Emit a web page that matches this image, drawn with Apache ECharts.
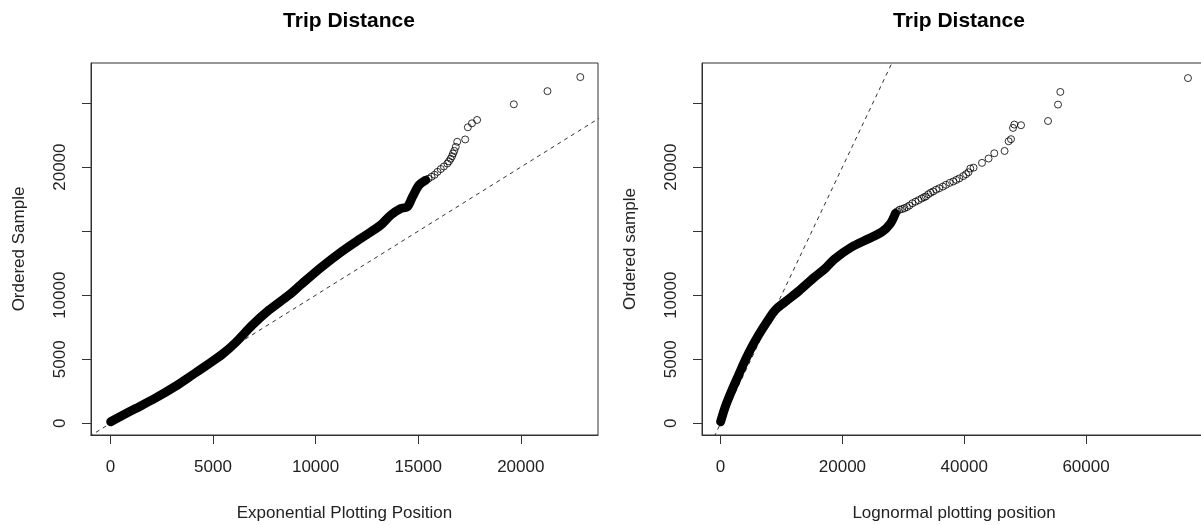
<!DOCTYPE html>
<html>
<head>
<meta charset="utf-8">
<title>Trip Distance</title>
<script src="https://cdn.jsdelivr.net/npm/echarts@6/dist/echarts.min.js"></script>
<style>
html, body { margin: 0; padding: 0; background: #fff; overflow: hidden; }
#report { width: 1201px; height: 525px; }
</style>
</head>
<body>
<div id="report"></div>
<script>
// 指数分布 QQ 图: 密集部分 + 尾部散点
var expBodyX = [15, 420, 1230, 2210, 3180, 4000, 4800, 5460, 6100, 6920, 7730, 8700, 9300, 10250, 11220, 12200, 13170, 13660, 14150, 14470, 14720, 15040, 15370];
var expBodyY = [125, 480, 1150, 1980, 2900, 3780, 4650, 5400, 6300, 7670, 8840, 10010, 10850, 12150, 13350, 14430, 15470, 16250, 16770, 16900, 17680, 18590, 18980];
var expTailX = [15500, 15650, 15800, 15940, 16100, 16250, 16420, 16500, 16580, 16650, 16700, 16760, 16830, 16900, 17290, 17420, 17620, 17870, 19660, 21300, 22900];
var expTailY = [19100, 19250, 19400, 19630, 19850, 20050, 20280, 20450, 20650, 20850, 21060, 21270, 21580, 21980, 22160, 23110, 23420, 23680, 24905, 25930, 27030];

// 对数正态 QQ 图
var lnBodyX = [0, 770, 1870, 2960, 4060, 5160, 6240, 7620, 8980, 10620, 12900, 15400, 17200, 18670, 21450, 24240, 26470, 27870, 28700];
var lnBodyY = [125, 1300, 2600, 3770, 4940, 5980, 6890, 7930, 8840, 9490, 10350, 11400, 12100, 12815, 13744, 14400, 14930, 15590, 16390];
var lnTailX = [29000, 29400, 29820, 30200, 30600, 31000, 31490, 32000, 32500, 33000, 33400, 33710, 34100, 34500, 34900, 35390, 35900, 36500, 37000, 37620, 38200, 38700, 39200, 39850, 40300, 40700, 41000, 41530, 42920, 44000, 44940, 46630, 47290, 47680, 48010, 48230, 49330, 53760, 55400, 55780, 76740];
var lnTailY = [16550, 16680, 16730, 16800, 16880, 17000, 17180, 17300, 17420, 17550, 17650, 17710, 17880, 18000, 18100, 18240, 18350, 18480, 18620, 18770, 18880, 19000, 19120, 19300, 19450, 19600, 19890, 19960, 20330, 20670, 21080, 21260, 22020, 22180, 23060, 23320, 23270, 23600, 24880, 25870, 26950];

// 参考线 y = x 的两个端点
var refLine = [-5000, 90000];

// 刻度
var expXTicks = [0, 5000, 10000, 15000, 20000];
var lnXTicks = [0, 20000, 40000, 60000];
var yTicks = [0, 5000, 10000, 15000, 20000, 25000];
var yLabels = [0, 5000, 10000, 20000];

var FONT = '"Liberation Sans", Arial, sans-serif';

function zip(xs, ys) {
    var out = [];
    for (var i = 0; i < xs.length; i++) {
        out.push([xs[i], ys[i]]);
    }
    return out;
}

function xAxisOf(grid, min, max, ticks, name) {
    return {
        gridIndex: grid,
        type: 'value',
        min: min,
        max: max,
        name: name,
        nameLocation: 'middle',
        nameGap: 70,
        nameTextStyle: { fontFamily: FONT, fontSize: 17, color: '#222' },
        axisLine: { onZero: false, lineStyle: { color: '#333', width: 1 } },
        axisTick: { customValues: ticks, length: 9, lineStyle: { color: '#333' } },
        axisLabel: {
            customValues: ticks,
            margin: 24,
            fontFamily: FONT,
            fontSize: 17,
            color: '#222',
            formatter: function (v) { return String(v); }
        },
        splitLine: { show: false }
    };
}

function yAxisOf(grid, name) {
    return {
        gridIndex: grid,
        type: 'value',
        min: -913,
        max: 28128,
        name: name,
        nameLocation: 'middle',
        nameGap: 63,
        nameTextStyle: { fontFamily: FONT, fontSize: 17, color: '#222' },
        axisLine: { onZero: false, lineStyle: { color: '#333', width: 1 } },
        axisTick: { customValues: yTicks, length: 9, lineStyle: { color: '#333' } },
        axisLabel: {
            customValues: yLabels,
            rotate: 90,
            margin: 22,
            fontFamily: FONT,
            fontSize: 17,
            color: '#222',
            formatter: function (v) { return String(v); }
        },
        splitLine: { show: false }
    };
}

function panelSeries(idx, bodyX, bodyY, tailX, tailY) {
    return [
        {
            type: 'line',
            xAxisIndex: idx,
            yAxisIndex: idx,
            data: [[refLine[0], refLine[0]], [refLine[1], refLine[1]]],
            showSymbol: false,
            clip: true,
            silent: true,
            z: 1,
            lineStyle: { color: '#333', width: 1, type: [4, 4] }
        },
        {
            type: 'line',
            xAxisIndex: idx,
            yAxisIndex: idx,
            data: zip(bodyX, bodyY),
            showSymbol: false,
            smooth: 0.3,
            z: 2,
            lineStyle: { color: '#000', width: 9, cap: 'round', join: 'round' }
        },
        {
            type: 'scatter',
            xAxisIndex: idx,
            yAxisIndex: idx,
            data: zip(tailX, tailY),
            symbol: 'circle',
            symbolSize: 7,
            z: 3,
            itemStyle: { color: 'rgba(0,0,0,0)', borderColor: '#000', borderWidth: 1 }
        }
    ];
}

var myChart = echarts.init(document.getElementById('report'));
var titleStyle = { fontFamily: FONT, fontSize: 21, fontWeight: 'bold', color: '#000' };

var option = {
    animation: false,
    backgroundColor: '#fff',
    title: [
        { text: 'Trip Distance', left: 344, top: 6, textAlign: 'center', textStyle: titleStyle },
        { text: 'Trip Distance', left: 954, top: 6, textAlign: 'center', textStyle: titleStyle }
    ],
    grid: [
        { left: 91, top: 63, width: 507, height: 372, outerBoundsMode: 'none', show: true, borderColor: '#333', borderWidth: 1, backgroundColor: 'transparent' },
        { left: 702, top: 63, width: 504, height: 372, outerBoundsMode: 'none', show: true, borderColor: '#333', borderWidth: 1, backgroundColor: 'transparent' }
    ],
    xAxis: [
        xAxisOf(0, -945, 23762, expXTicks, 'Exponential Plotting Position'),
        xAxisOf(1, -3054, 79700, lnXTicks, 'Lognormal plotting position')
    ],
    yAxis: [
        yAxisOf(0, 'Ordered Sample'),
        yAxisOf(1, 'Ordered sample')
    ],
    series: panelSeries(0, expBodyX, expBodyY, expTailX, expTailY)
        .concat(panelSeries(1, lnBodyX, lnBodyY, lnTailX, lnTailY))
};

myChart.setOption(option);
</script>
</body>
</html>
